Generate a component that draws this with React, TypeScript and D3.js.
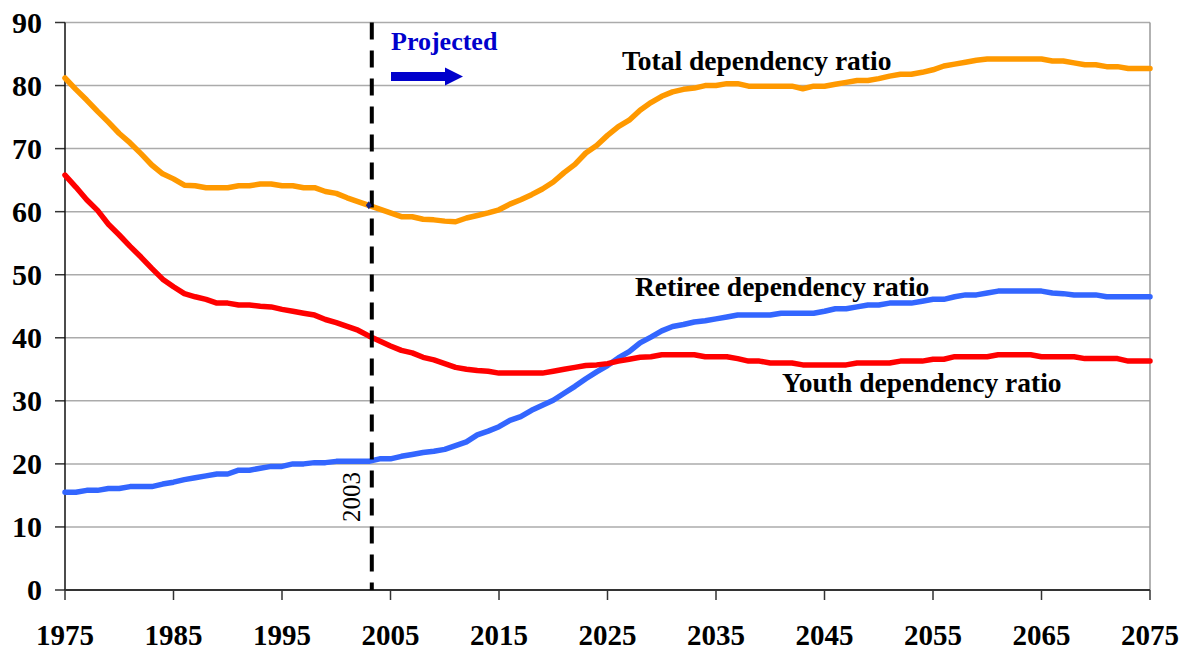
import React from "react";
import * as d3 from "d3";

const years: number[] = d3.range(1975, 2076);

const totalRatio: number[] = [
  81.2, 79.4, 77.7, 75.9, 74.2, 72.4, 70.9, 69.2, 67.4, 66.0,
  65.2, 64.2, 64.1, 63.8, 63.8, 63.8, 64.1, 64.1, 64.4, 64.4,
  64.1, 64.1, 63.8, 63.8, 63.2, 62.9, 62.2, 61.6, 61.0, 60.4,
  59.8, 59.2, 59.2, 58.8, 58.7, 58.5, 58.4, 59.0, 59.4, 59.8,
  60.3, 61.2, 61.9, 62.7, 63.6, 64.7, 66.2, 67.5, 69.3, 70.5,
  72.1, 73.5, 74.5, 76.1, 77.3, 78.3, 79.0, 79.4, 79.6, 80.0,
  80.0, 80.3, 80.3, 79.9, 79.9, 79.9, 79.9, 79.9, 79.5, 79.9,
  79.9, 80.2, 80.5, 80.8, 80.8, 81.1, 81.5, 81.8, 81.8, 82.1,
  82.5, 83.1, 83.4, 83.7, 84.0, 84.2, 84.2, 84.2, 84.2, 84.2,
  84.2, 83.9, 83.9, 83.6, 83.3, 83.3, 83.0, 83.0, 82.7, 82.7,
  82.7,
];

const youthRatio: number[] = [
  65.8, 63.9, 61.9, 60.2, 58.0, 56.3, 54.5, 52.8, 51.0, 49.3,
  48.1, 47.0, 46.5, 46.1, 45.5, 45.5, 45.2, 45.2, 45.0, 44.9,
  44.5, 44.2, 43.9, 43.6, 42.9, 42.4, 41.8, 41.2, 40.3, 39.5,
  38.7, 38.0, 37.6, 36.9, 36.5, 35.9, 35.3, 35.0, 34.8, 34.7,
  34.4, 34.4, 34.4, 34.4, 34.4, 34.7, 35.0, 35.3, 35.6, 35.7,
  35.9, 36.3, 36.6, 36.9, 37.0, 37.3, 37.3, 37.3, 37.3, 37.0,
  37.0, 37.0, 36.7, 36.3, 36.3, 36.0, 36.0, 36.0, 35.7, 35.7,
  35.7, 35.7, 35.7, 36.0, 36.0, 36.0, 36.0, 36.3, 36.3, 36.3,
  36.6, 36.6, 37.0, 37.0, 37.0, 37.0, 37.3, 37.3, 37.3, 37.3,
  37.0, 37.0, 37.0, 37.0, 36.7, 36.7, 36.7, 36.7, 36.3, 36.3,
  36.3,
];

const retireeRatio: number[] = [
  15.5, 15.5, 15.8, 15.8, 16.1, 16.1, 16.4, 16.4, 16.4, 16.8,
  17.1, 17.5, 17.8, 18.1, 18.4, 18.4, 19.0, 19.0, 19.3, 19.6,
  19.6, 20.0, 20.0, 20.2, 20.2, 20.4, 20.4, 20.4, 20.4, 20.8,
  20.8, 21.2, 21.5, 21.8, 22.0, 22.3, 22.9, 23.5, 24.6, 25.2,
  25.9, 26.9, 27.5, 28.5, 29.3, 30.1, 31.2, 32.3, 33.5, 34.6,
  35.6, 36.8, 37.8, 39.2, 40.1, 41.1, 41.8, 42.1, 42.5, 42.7,
  43.0, 43.3, 43.6, 43.6, 43.6, 43.6, 43.9, 43.9, 43.9, 43.9,
  44.2, 44.6, 44.6, 44.9, 45.2, 45.2, 45.5, 45.5, 45.5, 45.8,
  46.1, 46.1, 46.5, 46.8, 46.8, 47.1, 47.4, 47.4, 47.4, 47.4,
  47.4, 47.1, 47.0, 46.8, 46.8, 46.8, 46.5, 46.5, 46.5, 46.5,
  46.5,
];

const xTicks: number[] = [1975, 1985, 1995, 2005, 2015, 2025, 2035, 2045, 2055, 2065, 2075];
const yTicks: number[] = [0, 10, 20, 30, 40, 50, 60, 70, 80, 90];
const dividerYear = 2003;
const dividerLabel = "2003";
const projectedLabel = "Projected";
const seriesLabels = {
  total: "Total dependency ratio",
  retiree: "Retiree dependency ratio",
  youth: "Youth dependency ratio",
};

const W = 1186;
const H = 651;
const FONT = "'Liberation Serif', 'Times New Roman', Times, serif";

export default function App() {
  const x = d3.scaleLinear().domain([1975, 2075]).range([65, 1150]);
  const y = d3.scaleLinear().domain([0, 90]).range([590, 22.5]);

  const mk = (vals: number[]) =>
    d3
      .line<number>()
      .x((_, i) => x(years[i]))
      .y((v) => y(v))(vals) || "";

  const divX = x(dividerYear) + 3;
  const markX = x(dividerYear);
  const markY = y(totalRatio[years.indexOf(dividerYear)]);
  const tf = { fontFamily: FONT };

  return (
    <svg
      width={W}
      height={H}
      style={{ position: "absolute", left: 0, top: 0, background: "#fff", fontFamily: FONT }}
    >
      {/* gridlines */}
      {yTicks.filter((t) => t > 0).map((t) => (
        <line key={t} x1={x(1975)} x2={x(2075)} y1={y(t)} y2={y(t)} stroke="#ababab" strokeWidth={1.5} />
      ))}
      {/* right border */}
      <line x1={x(2075)} x2={x(2075)} y1={y(90)} y2={y(0)} stroke="#999" strokeWidth={1.5} />

      {/* y ticks + labels */}
      {yTicks.map((t) => (
        <g key={"y" + t}>
          <line x1={55} x2={65} y1={y(t)} y2={y(t)} stroke="#333" strokeWidth={1.5} />
          <text x={42} y={y(t)} dy="0.34em" textAnchor="end" fontSize={30} fontWeight="bold" fill="#000" style={tf}>
            {t}
          </text>
        </g>
      ))}
      {/* x ticks + labels */}
      {xTicks.map((t) => (
        <g key={"x" + t}>
          <line x1={x(t)} x2={x(t)} y1={y(0)} y2={y(0) + 10} stroke="#333" strokeWidth={1.5} />
          <text x={x(t)} y={645} textAnchor="middle" fontSize={29} fontWeight="bold" fill="#000" style={tf}>
            {t}
          </text>
        </g>
      ))}
      {/* axes */}
      <line x1={x(1975)} x2={x(1975)} y1={y(90)} y2={y(0)} stroke="#111" strokeWidth={1.5} />
      <line x1={x(1975)} x2={x(2075)} y1={y(0)} y2={y(0)} stroke="#333" strokeWidth={2} />

      {/* series */}
      <path d={mk(retireeRatio)} fill="none" stroke="#3366FF" strokeWidth={5.5} strokeLinejoin="round" strokeLinecap="round" />
      <path d={mk(youthRatio)} fill="none" stroke="#FF0000" strokeWidth={5.5} strokeLinejoin="round" strokeLinecap="round" />
      <path d={mk(totalRatio)} fill="none" stroke="#FF9900" strokeWidth={5.5} strokeLinejoin="round" strokeLinecap="round" />

      {/* divider */}
      <line x1={divX} x2={divX} y1={y(90)} y2={y(0)} stroke="#000" strokeWidth={4} strokeDasharray="17 11" />
      <path
        d={`M${markX - 3},${markY} L${markX},${markY - 4} L${markX + 3},${markY} L${markX},${markY + 4} Z`}
        fill="#1a237e"
      />
      <text transform={`translate(${divX - 12},522) rotate(-90)`} fontSize={25} fill="#000" style={tf}>
        {dividerLabel}
      </text>

      {/* projected */}
      <text x={391} y={50} fontSize={26} fontWeight="bold" fill="#0000CC" style={tf}>
        {projectedLabel}
      </text>
      <path d="M391,72 L445,72 L445,67.5 L463,76.5 L445,85.5 L445,81 L391,81 Z" fill="#0000CC" />

      {/* series labels */}
      <text x={622} y={70} fontSize={27.5} fontWeight="bold" fill="#000" style={tf}>
        {seriesLabels.total}
      </text>
      <text x={635} y={296} fontSize={27.5} fontWeight="bold" fill="#000" style={tf}>
        {seriesLabels.retiree}
      </text>
      <text x={782} y={392} fontSize={27.5} fontWeight="bold" fill="#000" style={tf}>
        {seriesLabels.youth}
      </text>
    </svg>
  );
}
